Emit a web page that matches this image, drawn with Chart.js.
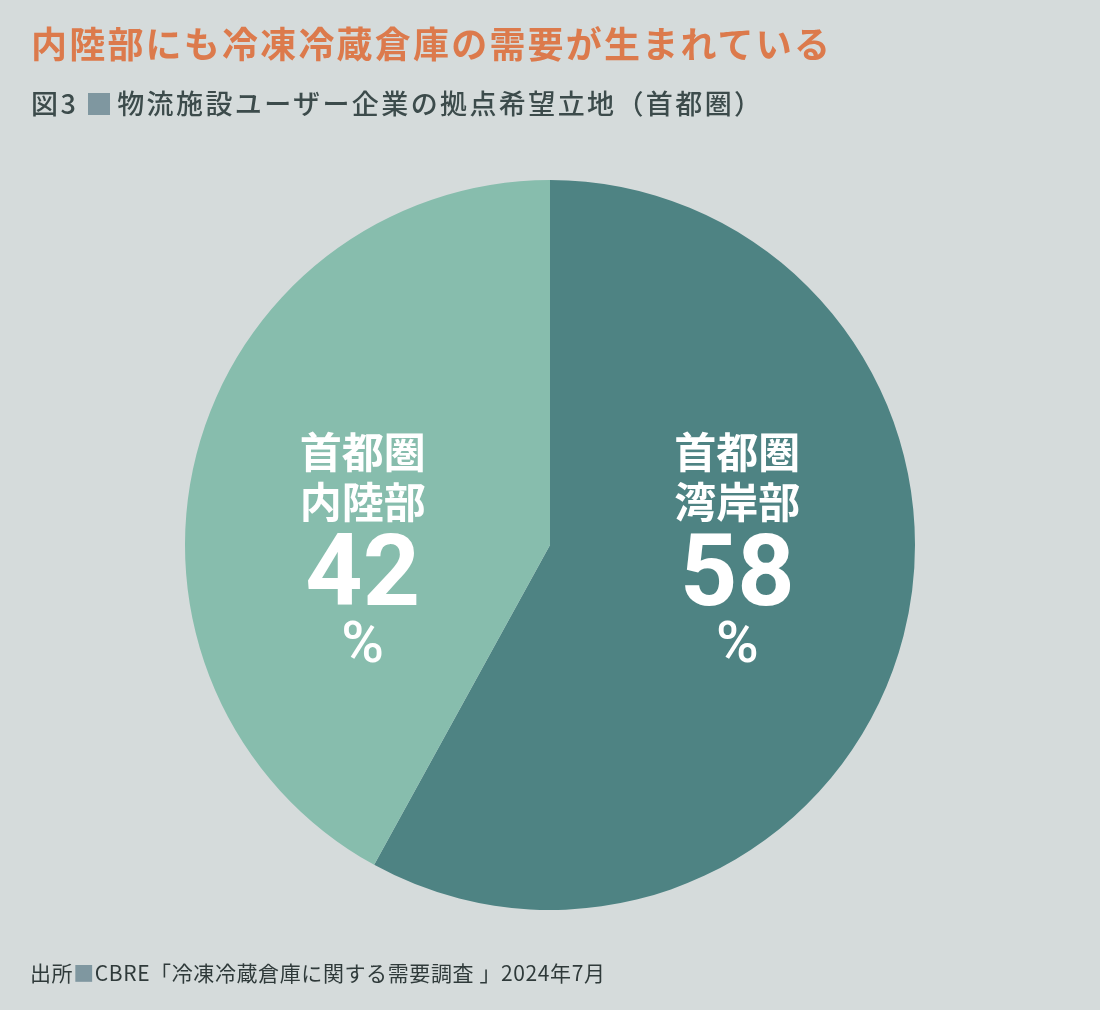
<!DOCTYPE html>
<html lang="ja">
<head>
<meta charset="utf-8">
<script src="https://cdn.jsdelivr.net/npm/chart.js@4"></script>
<style>
  html, body { margin: 0; padding: 0; background: #d5dbdb; }
  #wrap { position: relative; width: 1100px; height: 1010px; background: #d5dbdb; overflow: hidden;
    font-family: "Noto Sans CJK JP", "Noto Sans", sans-serif; }
  #title { position: absolute; left: 31px; top: 16px; font-size: 36px; font-weight: 700; color: #dc7a4c; letter-spacing: 2.2px; white-space: nowrap; }
  #subtitle { position: absolute; left: 31px; top: 83px; font-size: 27px; font-weight: 500; color: #3c4b4b; white-space: nowrap; letter-spacing: 2.4px; }
  #footer { position: absolute; left: 30px; top: 957px; font-size: 21px; color: #2f3a3a; white-space: nowrap; letter-spacing: 0.6px; }
  .sq { color: #7f97a0; }
  .box { display: inline-block; width: 22px; height: 22px; background: #7f97a0; margin: 0 7px 0 10px; vertical-align: -1px; }
  canvas { position: absolute; left: 0; top: 0; }
</style>
</head>
<body>
<div id="wrap">
  <canvas id="myChart" width="1100" height="1010"></canvas>
  <div id="title">内陸部にも冷凍冷蔵倉庫の需要が生まれている</div>
  <div id="subtitle">図3<span class="box"></span>物流施設ユーザー企業の拠点希望立地（首都圏）</div>
  <div id="footer">出所<span class="sq">■</span>CBRE「冷凍冷蔵倉庫に関する需要調査 」2024年7月</div>
</div>
<script>
// data
const areas = ['首都圏\n湾岸部', '首都圏\n内陸部'];
const shares = [58, 42];
const sliceColors = ['#4e8383', '#87bdad'];

document.addEventListener("DOMContentLoaded", function () {
    const ctx = document.getElementById('myChart').getContext('2d');

    // draws the white labels inside each slice
    const sliceLabels = {
        id: 'sliceLabels',
        afterDatasetsDraw(chart) {
            const meta = chart.getDatasetMeta(0);
            const c = chart.ctx;
            c.save();
            c.fillStyle = '#ffffff';
            c.textAlign = 'center';
            c.textBaseline = 'middle';
            meta.data.forEach((arc, i) => {
                const mid = (arc.startAngle + arc.endAngle) / 2;
                const x = arc.x + Math.cos(mid) * arc.outerRadius * 0.53;
                const y = arc.y;
                const lines = areas[i].split('\n');
                c.font = '700 42px "Noto Sans CJK JP"';
                c.fillText(lines[0], x, y - 93);
                c.fillText(lines[1], x, y - 43);
                c.font = '700 100px Roboto';
                c.fillText(String(shares[i]), x, y + 35);
                c.font = '500 58px Roboto';
                c.fillText('%', x, y + 102);
            });
            c.restore();
        }
    };

    new Chart(ctx, {
        type: 'pie',
        data: {
            labels: areas,
            datasets: [{
                data: shares,
                backgroundColor: sliceColors,
                borderWidth: 0
            }]
        },
        options: {
            responsive: false,
            animation: false,
            layout: { padding: { top: 180, bottom: 100, left: 0, right: 0 } },
            plugins: {
                legend: { display: false },
                tooltip: { enabled: false }
            }
        },
        plugins: [sliceLabels]
    });
});
</script>
</body>
</html>
